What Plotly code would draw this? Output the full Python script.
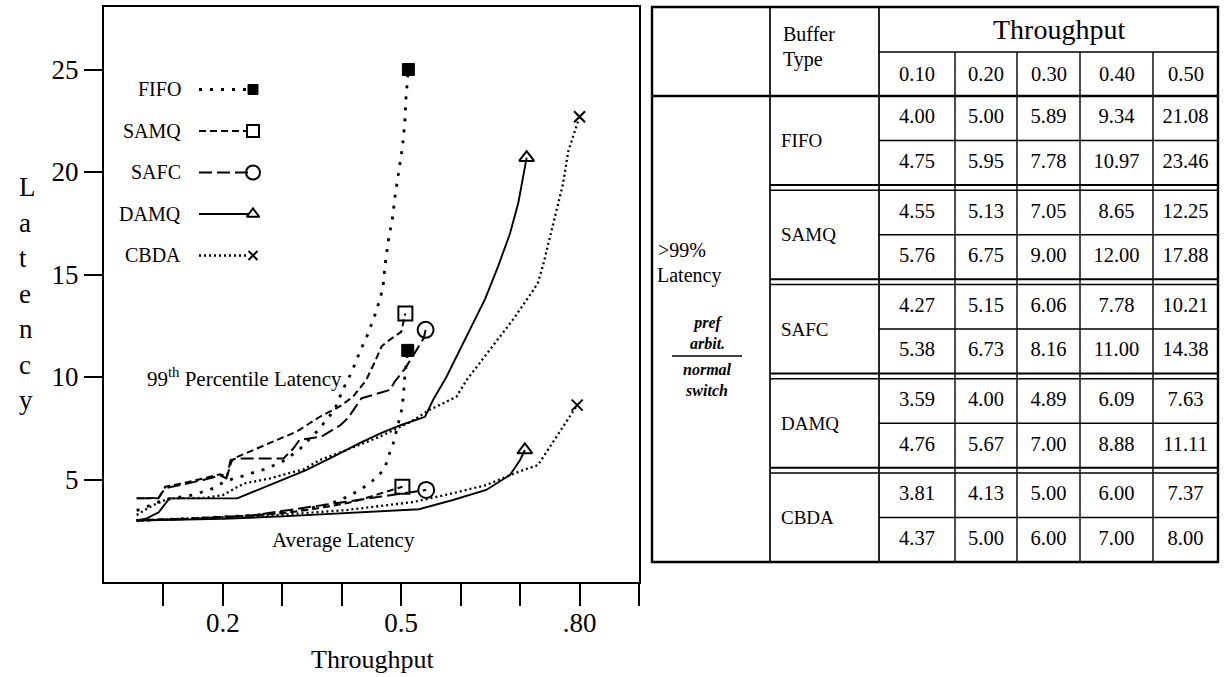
import plotly.graph_objects as go

# ---------------- chart data ----------------
# 99th percentile latency curves
fifo99_x = [0.055, 0.10, 0.15, 0.184, 0.20, 0.218, 0.238, 0.254, 0.274, 0.305, 0.33, 0.36, 0.388, 0.402,
            0.416, 0.43, 0.444, 0.458, 0.469, 0.473, 0.478, 0.485, 0.49, 0.496, 0.502, 0.506, 0.508, 0.512]
fifo99_y = [3.48, 4.0, 4.25, 4.57, 4.85, 5.05, 5.2, 5.37, 5.53, 5.95, 6.5, 7.4, 8.4, 9.4,
            10.2, 11.2, 12.1, 13.2, 14.3, 15.5, 16.6, 17.7, 18.9, 20.1, 21.2, 22.4, 23.6, 25.0]
samq99_x = [0.055, 0.092, 0.103, 0.13, 0.167, 0.195, 0.207, 0.214, 0.22, 0.232, 0.257, 0.291, 0.325,
            0.363, 0.396, 0.419, 0.441, 0.455, 0.467, 0.48, 0.50, 0.507]
samq99_y = [4.08, 4.1, 4.65, 4.8, 5.05, 5.25, 5.15, 5.85, 6.05, 6.2, 6.5, 6.9, 7.35,
            8.06, 8.55, 9.04, 9.85, 10.7, 11.5, 11.8, 12.2, 13.1]
safc99_x = [0.055, 0.091, 0.103, 0.128, 0.167, 0.195, 0.206, 0.213, 0.224, 0.302, 0.313, 0.318,
            0.329, 0.366, 0.398, 0.41, 0.433, 0.481, 0.489, 0.506, 0.517, 0.528, 0.538, 0.541]
safc99_y = [4.08, 4.08, 4.57, 4.73, 4.98, 5.2, 5.06, 5.95, 6.03, 6.03, 6.36, 6.5,
            6.93, 7.09, 7.66, 7.98, 8.96, 9.37, 9.77, 10.4, 10.9, 11.4, 11.9, 12.3]
damq99_x = [0.055, 0.072, 0.092, 0.11, 0.224, 0.26, 0.30, 0.34, 0.385, 0.43, 0.465, 0.50, 0.54,
            0.554, 0.576, 0.61, 0.641, 0.663, 0.683, 0.697, 0.708, 0.711]
damq99_y = [3.0, 3.1, 3.4, 4.08, 4.08, 4.5, 4.98, 5.46, 6.1, 6.77, 7.25, 7.66, 8.06,
            8.9, 10.0, 12.0, 13.8, 15.4, 17.0, 18.5, 20.1, 20.7]
cbda99_x = [0.055, 0.083, 0.11, 0.17, 0.20, 0.235, 0.28, 0.336, 0.363, 0.408, 0.464, 0.515, 0.548,
            0.593, 0.61, 0.649, 0.688, 0.719, 0.73, 0.739, 0.75, 0.761, 0.772, 0.781, 0.80]
cbda99_y = [3.27, 3.76, 4.08, 4.1, 4.24, 4.8, 5.06, 5.5, 5.95, 6.44, 7.09, 7.8, 8.4,
            9.04, 9.85, 11.3, 12.8, 14.1, 14.6, 15.5, 16.8, 18.1, 19.4, 21.0, 22.7]

# average latency curves
fifoavg_x = [0.055, 0.15, 0.25, 0.33, 0.38, 0.413, 0.43, 0.447, 0.472, 0.478, 0.486, 0.50, 0.503, 0.506, 0.511]
fifoavg_y = [3.0, 3.1, 3.25, 3.5, 3.8, 4.2, 4.5, 4.8, 5.5, 6.1, 6.7, 8.3, 8.9, 10.0, 11.3]
samqavg_x = [0.055, 0.15, 0.25, 0.30, 0.35, 0.408, 0.43, 0.465, 0.502]
samqavg_y = [3.0, 3.1, 3.25, 3.35, 3.55, 3.84, 4.0, 4.33, 4.65]
safcavg_x = [0.055, 0.15, 0.25, 0.295, 0.351, 0.408, 0.464, 0.526, 0.542]
safcavg_y = [3.0, 3.08, 3.25, 3.45, 3.67, 3.92, 4.16, 4.4, 4.49]
damqavg_x = [0.055, 0.2, 0.3, 0.4, 0.53, 0.587, 0.643, 0.683, 0.70, 0.708]
damqavg_y = [3.0, 3.08, 3.2, 3.35, 3.55, 4.0, 4.49, 5.22, 5.95, 6.44]
cbdaavg_x = [0.055, 0.15, 0.295, 0.408, 0.52, 0.587, 0.643, 0.677, 0.705, 0.73, 0.75, 0.773, 0.796]
cbdaavg_y = [3.0, 3.1, 3.27, 3.51, 3.9, 4.33, 4.73, 5.14, 5.46, 5.7, 6.6, 7.58, 8.63]

x_tickvals = [0.2, 0.5, 0.8]
x_ticktext = ["0.2", "0.5", ".80"]
x_minor_ticks = [0.1, 0.3, 0.4, 0.6, 0.7, 0.9]
y_tickvals = [5, 10, 15, 20, 25]

# table data
buffer_types = ["FIFO", "SAMQ", "SAFC", "DAMQ", "CBDA"]
throughput_hdr = ["0.10", "0.20", "0.30", "0.40", "0.50"]
fifo_pref = [4.00, 5.00, 5.89, 9.34, 21.08]
fifo_norm = [4.75, 5.95, 7.78, 10.97, 23.46]
samq_pref = [4.55, 5.13, 7.05, 8.65, 12.25]
samq_norm = [5.76, 6.75, 9.00, 12.00, 17.88]
safc_pref = [4.27, 5.15, 6.06, 7.78, 10.21]
safc_norm = [5.38, 6.73, 8.16, 11.00, 14.38]
damq_pref = [3.59, 4.00, 4.89, 6.09, 7.63]
damq_norm = [4.76, 5.67, 7.00, 8.88, 11.11]
cbda_pref = [3.81, 4.13, 5.00, 6.00, 7.37]
cbda_norm = [4.37, 5.00, 6.00, 7.00, 8.00]
table_rows = [(fifo_pref, fifo_norm), (samq_pref, samq_norm), (safc_pref, safc_norm),
              (damq_pref, damq_norm), (cbda_pref, cbda_norm)]

# ---------------- styles / layout constants ----------------
FONT = "Liberation Serif"
W, H = 1224, 677
ML, MR, MT, MB = 104, 4, 5, 95
PW, PH = W - ML - MR, H - MT - MB
PLOT_R, PLOT_T, PLOT_B = 639, 7, 582
XMAX, YMAX = 0.9, 28.05
PX_PER_X = (PLOT_R - ML) / XMAX
PX_PER_Y = (PLOT_B - PLOT_T) / YMAX


def px2x(px):
    return (px - ML) / PX_PER_X


def px2y(py):
    return (PLOT_B - py) / PX_PER_Y


def paper_y(py):
    return (PLOT_B - py) / PH


styles = {
    "FIFO": dict(dash="3px,8px", width=2.8, symbol="square", size=12, mlw=1),
    "SAMQ": dict(dash="7px,4px", width=2.0, symbol="square-open", size=14, mlw=2),
    "SAFC": dict(dash="13px,5px", width=2.0, symbol="circle-open", size=16, mlw=2),
    "DAMQ": dict(dash="solid", width=1.9, symbol="triangle-up-open", size=13, mlw=2),
    "CBDA": dict(dash="2px,3px", width=2.3, symbol="x-thin-open", size=11, mlw=2),
}

series = [
    ("FIFO", fifo99_x, fifo99_y), ("SAMQ", samq99_x, samq99_y), ("SAFC", safc99_x, safc99_y),
    ("DAMQ", damq99_x, damq99_y), ("CBDA", cbda99_x, cbda99_y),
    ("FIFO", fifoavg_x, fifoavg_y), ("SAMQ", samqavg_x, samqavg_y), ("SAFC", safcavg_x, safcavg_y),
    ("DAMQ", damqavg_x, damqavg_y), ("CBDA", cbdaavg_x, cbdaavg_y),
]

fig = go.Figure()

for name, xs, ys in series:
    st = styles[name]
    fig.add_trace(go.Scatter(x=xs, y=ys, mode="lines", name=name, showlegend=False,
                             line=dict(color="black", width=st["width"], dash=st["dash"]),
                             hoverinfo="skip", xaxis="x", yaxis="y"))
    fig.add_trace(go.Scatter(x=[xs[-1]], y=[ys[-1]], mode="markers", showlegend=False,
                             marker=dict(symbol=st["symbol"], size=st["size"], color="black",
                                         line=dict(color="black", width=st["mlw"])),
                             hoverinfo="skip", xaxis="x", yaxis="y"))

# in-plot legend (text left of sample line, marker at end)
annotations = []
LEG_Y0, LEG_DY = 89.5, 41.5
for i, name in enumerate(buffer_types):
    st = styles[name]
    yy = px2y(LEG_Y0 + i * LEG_DY)
    fig.add_trace(go.Scatter(x=[px2x(199), px2x(248)], y=[yy, yy], mode="lines", showlegend=False,
                             line=dict(color="black", width=st["width"], dash=st["dash"]),
                             hoverinfo="skip"))
    fig.add_trace(go.Scatter(x=[px2x(253)], y=[yy], mode="markers", showlegend=False,
                             marker=dict(symbol=st["symbol"], size=st["size"] - 2, color="black",
                                         line=dict(color="black", width=st["mlw"])),
                             hoverinfo="skip"))
    annotations.append(dict(x=px2x(183), y=yy, xref="x", yref="y", text=name, showarrow=False,
                            xanchor="right", yanchor="middle", font=dict(family=FONT, size=20, color="black")))

annotations.append(dict(x=px2x(244), y=px2y(377), xref="x", yref="y",
                        text="99<sup>th</sup> Percentile Latency", showarrow=False,
                        font=dict(family=FONT, size=21, color="black")))
annotations.append(dict(x=px2x(343), y=px2y(540), xref="x", yref="y", text="Average Latency",
                        showarrow=False, font=dict(family=FONT, size=21, color="black")))

# axis titles
annotations.append(dict(x=px2x(373), y=paper_y(659), xref="x", yref="paper", text="Throughput",
                        showarrow=False, yanchor="middle", font=dict(family=FONT, size=26, color="black")))
for i, ch in enumerate("Latency"):
    annotations.append(dict(x=(17 - ML) / PW, y=paper_y(187 + i * 35.5), xref="paper", yref="paper",
                            text=ch, showarrow=False, yanchor="middle",
                            font=dict(family=FONT, size=27, color="black")))

# ---------------- table (drawn on its own axes, pixel-like units) ----------------
TX = [652, 770, 879, 955, 1017, 1080, 1153, 1218]
T_TOP, T_H1, T_H2 = 7, 52, 96
ROW, GAP = 44.5, 5.25
GROUP = 2 * ROW + GAP
T_BOT = T_H2 + 5 * 2 * ROW + 4 * GAP

shapes = []


def tline(x0, y0, x1, y1, w):
    shapes.append(dict(type="line", xref="x2", yref="y2", x0=x0, y0=y0, x1=x1, y1=y1,
                       line=dict(color="black", width=w)))


shapes.append(dict(type="rect", xref="x2", yref="y2", x0=TX[0], y0=T_TOP, x1=TX[-1], y1=T_BOT,
                   line=dict(color="black", width=2.4)))
tline(TX[1], T_TOP, TX[1], T_BOT, 1.7)
tline(TX[2], T_TOP, TX[2], T_BOT, 1.7)
for xv in TX[3:-1]:
    tline(xv, T_H1, xv, T_BOT, 1.4)
tline(TX[2], T_H1, TX[-1], T_H1, 1.4)
tline(TX[0], T_H2, TX[-1], T_H2, 2.4)

cell_x, cell_y, cell_t = [], [], []
for g, (pref, norm) in enumerate(table_rows):
    top = T_H2 + g * GROUP
    tline(TX[2], top + ROW, TX[-1], top + ROW, 1.4)
    if g < 4:
        tline(TX[1], top + 2 * ROW, TX[-1], top + 2 * ROW, 2.2)
        tline(TX[1], top + 2 * ROW + GAP, TX[-1], top + 2 * ROW + GAP, 1.5)
    for r, vals in enumerate((pref, norm)):
        for c, v in enumerate(vals):
            cell_x.append((TX[c + 2] + TX[c + 3]) / 2)
            cell_y.append(top + ROW * (r + 0.5))
            cell_t.append(f"{v:.2f}")
    annotations.append(dict(x=779, y=top + ROW, xref="x2", yref="y2", text=buffer_types[g],
                            showarrow=False, xanchor="left", yanchor="middle",
                            font=dict(family=FONT, size=19, color="black")))

fig.add_trace(go.Scatter(x=cell_x, y=cell_y, text=cell_t, mode="text", showlegend=False,
                         textfont=dict(family=FONT, size=20.5, color="black"),
                         hoverinfo="skip", xaxis="x2", yaxis="y2", cliponaxis=False))

for c, t in enumerate(throughput_hdr):
    annotations.append(dict(x=(TX[c + 2] + TX[c + 3]) / 2, y=(T_H1 + T_H2) / 2, xref="x2", yref="y2",
                            text=t, showarrow=False, font=dict(family=FONT, size=20.5, color="black")))
annotations.append(dict(x=1059, y=29, xref="x2", yref="y2", text="Throughput", showarrow=False,
                        font=dict(family=FONT, size=28, color="black")))
annotations.append(dict(x=781, y=34, xref="x2", yref="y2", text="Buffer", showarrow=False,
                        xanchor="left", font=dict(family=FONT, size=20, color="black")))
annotations.append(dict(x=781, y=59, xref="x2", yref="y2", text="Type", showarrow=False,
                        xanchor="left", font=dict(family=FONT, size=20, color="black")))
annotations.append(dict(x=656, y=250, xref="x2", yref="y2", text="&gt;99%", showarrow=False,
                        xanchor="left", font=dict(family=FONT, size=20, color="black")))
annotations.append(dict(x=655, y=275, xref="x2", yref="y2", text="Latency", showarrow=False,
                        xanchor="left", font=dict(family=FONT, size=20, color="black")))
annotations.append(dict(x=707, y=333, xref="x2", yref="y2", text="<b><i>pref<br>arbit.</i></b>",
                        showarrow=False, font=dict(family=FONT, size=16, color="black")))
annotations.append(dict(x=707, y=380, xref="x2", yref="y2", text="<b><i>normal<br>switch</i></b>",
                        showarrow=False, font=dict(family=FONT, size=16, color="black")))
tline(672, 356, 742, 356, 1.5)

fig.update_layout(
    width=W, height=H, margin=dict(l=ML, r=MR, t=MT, b=MB),
    paper_bgcolor="white", plot_bgcolor="white", showlegend=False, hovermode=False,
    font=dict(family=FONT, color="black"),
    xaxis=dict(domain=[0, (PLOT_R - ML) / PW], range=[0, XMAX], tickvals=x_tickvals, ticktext=x_ticktext,
               ticks="outside", ticklen=22, tickwidth=2, tickcolor="black", showgrid=False, zeroline=False,
               minor=dict(tickvals=x_minor_ticks, ticks="outside", ticklen=22, tickwidth=2,
                          tickcolor="black", showgrid=False),
               showline=True, mirror=True, linecolor="black", linewidth=2, ticklabelstandoff=-6,
               tickfont=dict(family=FONT, size=27, color="black")),
    yaxis=dict(domain=[0, (PLOT_B - PLOT_T) / PH], range=[0, YMAX], tickvals=y_tickvals,
               ticks="outside", ticklen=18, tickwidth=2, tickcolor="black", showgrid=False, zeroline=False,
               showline=True, mirror=True, linecolor="black", linewidth=2, ticklabelstandoff=0,
               tickfont=dict(family=FONT, size=27, color="black")),
    xaxis2=dict(domain=[(650 - ML) / PW, 1], range=[650, 1220], visible=False, anchor="y2"),
    yaxis2=dict(domain=[(PLOT_B - 564) / PH, 1], range=[564, 5], visible=False, anchor="x2"),
    shapes=shapes, annotations=annotations,
)

fig.write_html("out.html")
